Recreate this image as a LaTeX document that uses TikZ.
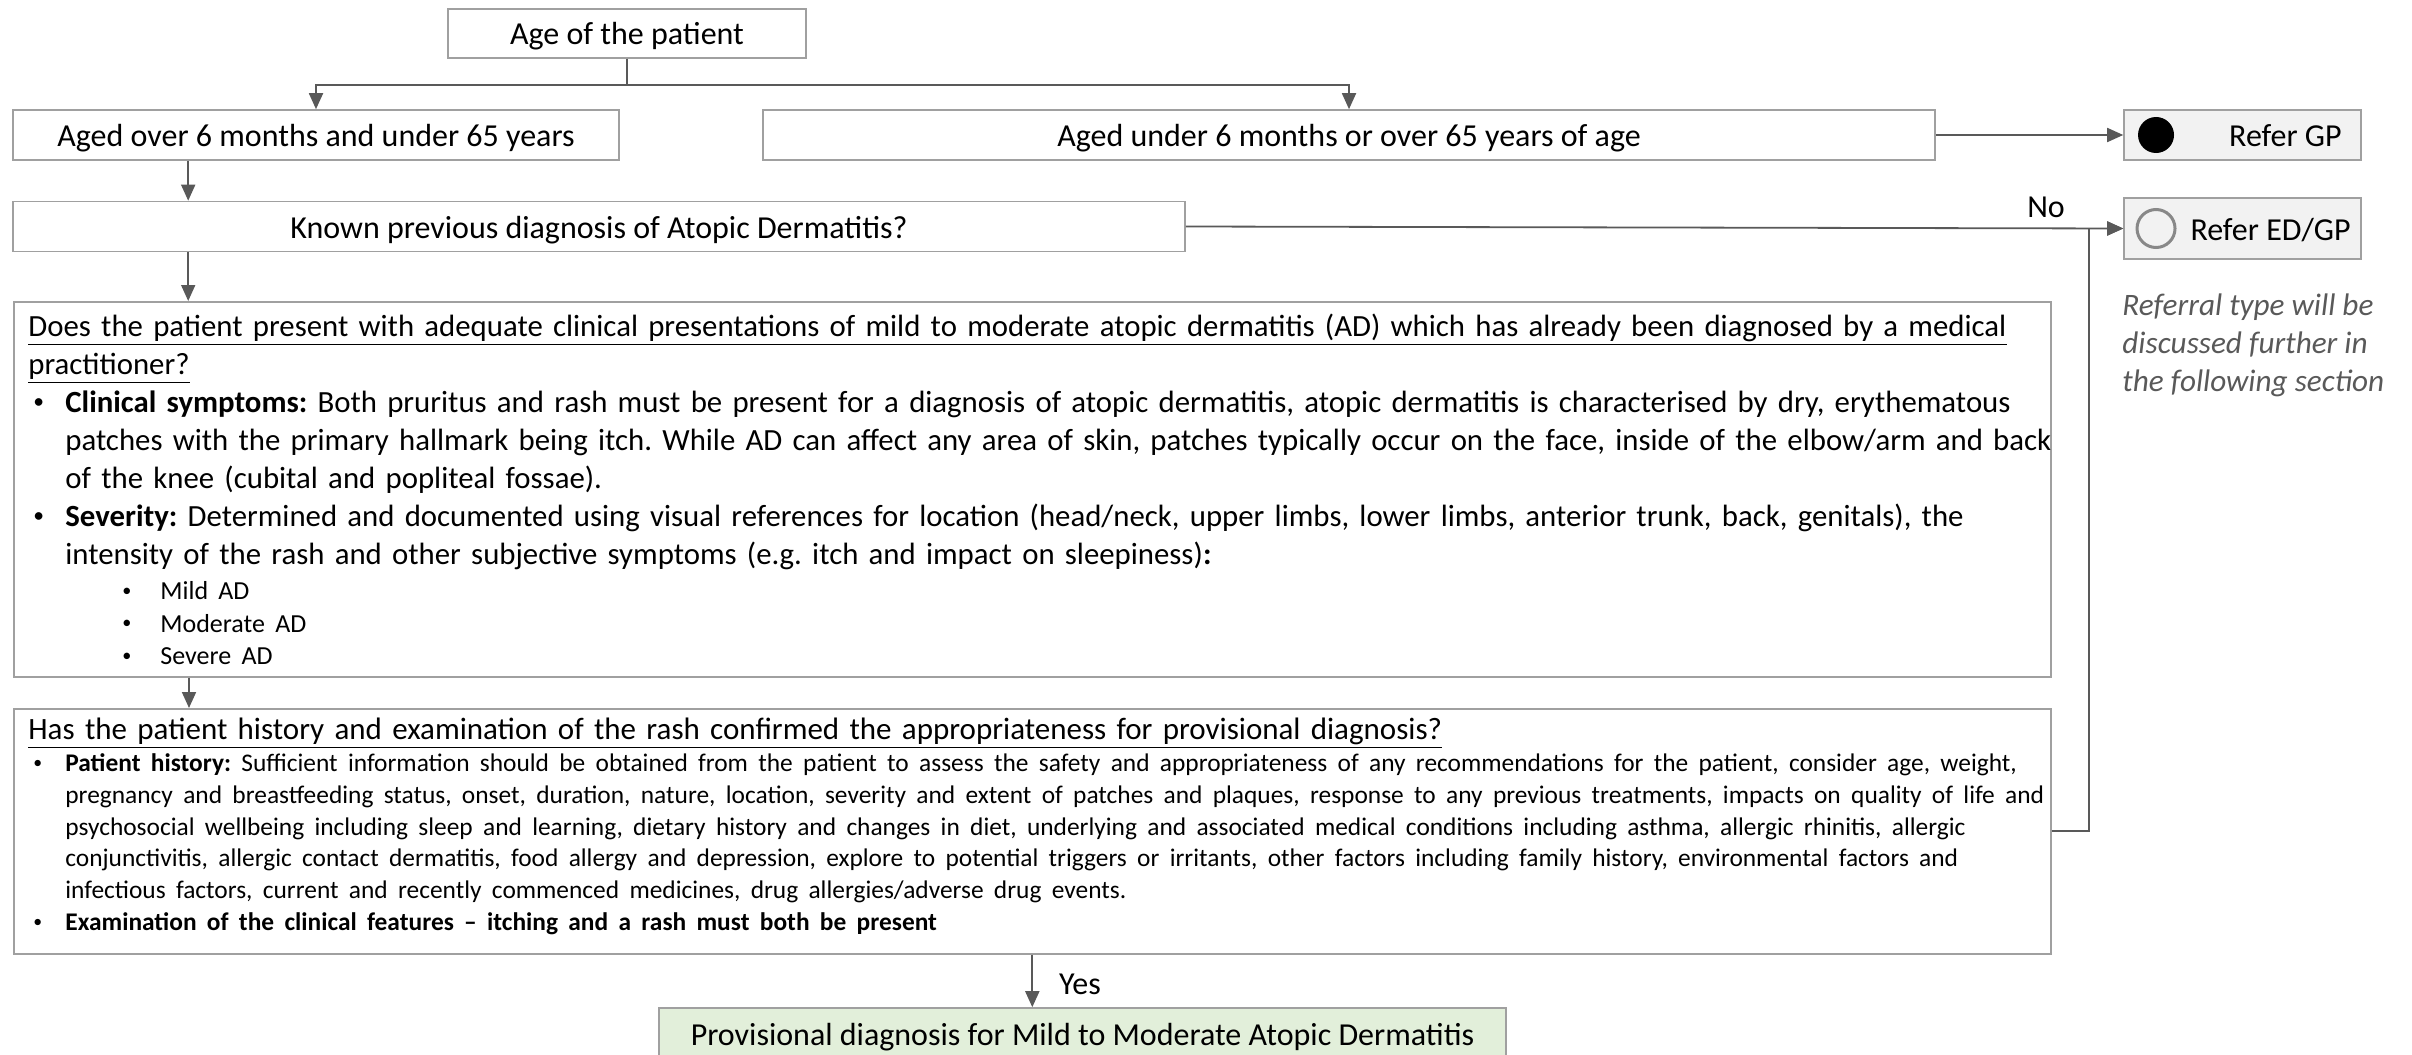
\documentclass[tikz,border=0pt]{standalone}
\usepackage{fontspec}
\setmainfont{Carlito}
\usetikzlibrary{arrows.meta}
\definecolor{boxgray}{HTML}{A0A0A0}
\definecolor{arrowgray}{HTML}{595959}
\definecolor{refergray}{HTML}{F2F2F2}
\definecolor{provgreen}{HTML}{E2EFDA}
\definecolor{notegray}{HTML}{595959}
\definecolor{ringgray}{HTML}{888888}
\newcommand{\dotmark}{\raisebox{0.12em}{\scalebox{0.7}{\textbullet}}}
\newcommand{\mainbul}{\par\hangindent=18.5pt\hangafter=1\makebox[18.5pt][l]{\hspace{2.5pt}\dotmark}}
\newcommand{\subbul}{\par\makebox[66pt][l]{\hspace{47pt}\dotmark}}
\tikzset{
	box/.style={draw=boxgray, line width=0.8pt, minimum height=25pt, inner sep=0pt, text height=11.5pt, text depth=0pt, font=\fontsize{16}{18}\selectfont},
	referbox/.style={box, fill=refergray, minimum width=118.5pt, minimum height=25pt},
	arr/.style={draw=arrowgray, line width=0.9pt, -{Triangle[width=7pt,length=8pt]}},
	bodytext/.style={anchor=north west, inner sep=0pt, text width=1100pt, align=left},
	lbl/.style={inner sep=0pt, text height=11.5pt, text depth=0pt, font=\fontsize{16}{18}\selectfont}
}

\begin{document}
\frenchspacing
\begin{tikzpicture}[x=0.5pt, y=-0.5pt]
		\useasboundingbox (0,0) rectangle (2412,1054);
		\clip (0,0) rectangle (2412,1054);
		
		\node[box, minimum width=179pt, minimum height=24.5pt] (age) at (627,33.5) {Age of the patient};
		\node[box, minimum width=303pt] (over) at (316,135) {Aged over 6 months and under 65 years};
		\node[box, minimum width=586pt] (under) at (1349,135) {Aged under 6 months or over 65 years of age};
		\node[box, minimum width=586pt] (known) at (599,226.5) {Known previous diagnosis of Atopic Dermatitis?};
		\node[referbox] (gp) at (2242.5,135) {};
		\node[referbox, minimum height=30.5pt] (edgp) at (2242.5,228.5) {};
		\node[box, anchor=north west, minimum width=1018.5pt, minimum height=187.5pt] (does) at (13,301) {};
		\node[box, anchor=north west, minimum width=1018.5pt, minimum height=122.5pt] (has) at (13,708) {};
		\node[box, fill=provgreen, minimum width=423.5pt, minimum height=26pt] (prov) at (1082.5,1034) {Provisional diagnosis for Mild to Moderate Atopic Dermatitis};
		
		\node[circle, fill=black, minimum size=18pt, inner sep=0pt] (gpdot) at (2156,135) {};
		\node[circle, draw=ringgray, line width=1.5pt, minimum size=19pt, inner sep=0pt] (edring) at (2156,228.5) {};
		\node[lbl, anchor=east] (gptext) at (2342,135) {Refer GP};
		\node[lbl, anchor=east] (edtext) at (2351,228.5) {Refer ED/GP};
		\node[anchor=north west, inner sep=0pt, align=left, text=notegray, font=\fontsize{15.6}{19}\selectfont\itshape] (note) at (2122,288) {\strut Referral type will be\\discussed further in\\the following section};
		
		\node[bodytext, font=\fontsize{15.4}{19}\selectfont] (doestext) at (28,309.5) {\strut\underline{Does the patient present with adequate clinical presentations of mild to moderate atopic dermatitis (AD) which has already been diagnosed by a medical}\newline
			\underline{practitioner?}
			\mainbul\textbf{Clinical symptoms:} Both pruritus and rash must be present for a diagnosis of atopic dermatitis, atopic dermatitis is characterised by dry, erythematous\newline
			patches with the primary hallmark being itch. While AD can affect any area of skin, patches typically occur on the face, inside of the elbow/arm and back\newline
			of the knee (cubital and popliteal fossae).
			\mainbul\textbf{Severity:} Determined and documented using visual references for location (head/neck, upper limbs, lower limbs, anterior trunk, back, genitals), the\newline
			intensity of the rash and other subjective symptoms (e.g. itch and impact on sleepiness)\textbf{:}
			\par\vspace{1.4pt}
			{\fontsize{13}{16.2}\selectfont
			\subbul Mild AD
			\subbul Moderate AD
			\subbul Severe AD\par}};
		
		\node[bodytext, font=\fontsize{15.5}{18}\selectfont] (hastext) at (28,714) {\strut\underline{Has the patient history and examination of the rash confirmed the appropriateness for provisional diagnosis?}\par
			{\fontsize{12.7}{15.9}\selectfont
			\mainbul\textbf{Patient history:} Sufficient information should be obtained from the patient to assess the safety and appropriateness of any recommendations for the patient, consider age, weight,\newline
			pregnancy and breastfeeding status, onset, duration, nature, location, severity and extent of patches and plaques, response to any previous treatments, impacts on quality of life and\newline
			psychosocial wellbeing including sleep and learning, dietary history and changes in diet, underlying and associated medical conditions including asthma, allergic rhinitis, allergic\newline
			conjunctivitis, allergic contact dermatitis, food allergy and depression, explore to potential triggers or irritants, other factors including family history, environmental factors and\newline
			infectious factors, current and recently commenced medicines, drug allergies/adverse drug events.
			\mainbul\textbf{Examination of the clinical features – itching and a rash must both be present}\par}};
		
		\coordinate (k1) at ([xshift=88pt]over.south west);
		\coordinate (k2) at ([xshift=88pt]known.south west);
		\coordinate (k3) at ([xshift=88pt]does.south west);
		
		\draw[arr] (age.south) -- ++(0,26) -| (over.north);
		\draw[arr] (age.south) -- ++(0,26) -| (under.north);
		\draw[arr] (k1) -- (k1 |- known.north);
		\draw[arr] (k2) -- (k2 |- does.north);
		\draw[arr] (k3) -- (k3 |- has.north);
		\draw[arr] (under.east) -- (gp.west);
		\draw[arr] (known.east) -- (edgp.west);
		\draw[arr] (has.east) -- ++(37,0) |- (edgp.west);
		\draw[arr] (has.south) -- (has.south |- prov.north);
		
		\node[lbl] (no) at (2046,206) {No};
		\node[lbl] (yes) at (1080,983) {Yes};
	\end{tikzpicture}
\end{document}
